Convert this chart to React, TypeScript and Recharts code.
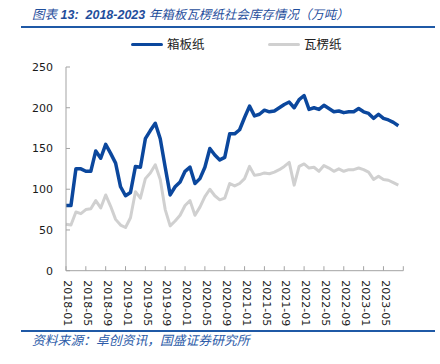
import React from 'react';
import { LineChart, Line, XAxis, YAxis } from 'recharts';

const months = [
  '2018-01','2018-02','2018-03','2018-04','2018-05','2018-06','2018-07','2018-08','2018-09','2018-10','2018-11','2018-12',
  '2019-01','2019-02','2019-03','2019-04','2019-05','2019-06','2019-07','2019-08','2019-09','2019-10','2019-11','2019-12',
  '2020-01','2020-02','2020-03','2020-04','2020-05','2020-06','2020-07','2020-08','2020-09','2020-10','2020-11','2020-12',
  '2021-01','2021-02','2021-03','2021-04','2021-05','2021-06','2021-07','2021-08','2021-09','2021-10','2021-11','2021-12',
  '2022-01','2022-02','2022-03','2022-04','2022-05','2022-06','2022-07','2022-08','2022-09','2022-10','2022-11','2022-12',
  '2023-01','2023-02','2023-03','2023-04','2023-05','2023-06','2023-07','2023-08','2023-09',
];

// 箱板纸
const boardValues = [
  80, 80, 125, 125, 122, 122, 147, 138, 155, 144,
  132, 103, 92, 96, 128, 127, 162, 172, 181, 162,
  127, 93, 103, 109, 122, 127, 107, 113, 127, 150,
  142, 136, 139, 168, 168, 173, 188, 202, 190, 192,
  197, 195, 196, 200, 204, 207, 200, 210, 215, 198,
  200, 198, 203, 199, 195, 196, 194, 195, 195, 199,
  195, 193, 187, 192, 187, 185, 182, 178,
];

// 瓦楞纸
const corrugatedValues = [
  57, 56, 72, 70, 75, 76, 86, 77, 93, 79,
  63, 56, 53, 65, 97, 89, 113, 120, 130, 112,
  75, 55, 61, 68, 80, 86, 68, 78, 91, 100,
  92, 87, 89, 107, 104, 107, 113, 128, 117, 118,
  120, 119, 121, 124, 128, 133, 105, 128, 131, 126,
  127, 122, 129, 126, 122, 125, 122, 124, 124, 126,
  124, 121, 112, 116, 112, 111, 108, 105,
];

const xTickLabels = [
  '2018-01','2018-05','2018-09','2019-01','2019-05','2019-09','2020-01','2020-05','2020-09',
  '2021-01','2021-05','2021-09','2022-01','2022-05','2022-09','2023-01','2023-05',
];
const axisEndTick = '2023-09';
const yTicks = [0, 50, 100, 150, 200, 250];

const seriesNames = ['箱板纸', '瓦楞纸'];
const BLUE = '#0B479D';
const GRAY = '#D0D0D0';
const AXIS = '#A3A3A3';
const TITLE_BLUE = '#1F4E9C';

const data = months.map((m, i) => ({
  month: m,
  board: i < boardValues.length ? boardValues[i] : null,
  corrugated: i < corrugatedValues.length ? corrugatedValues[i] : null,
}));

const XTick = (props: any) => {
  const { x, y, payload } = props;
  const showLabel = payload.value !== axisEndTick;
  return (
    <g>
      <line x1={x} x2={x} y1={y - 4.5} y2={y} stroke={AXIS} strokeWidth={1} />
      {showLabel && (
        <text
          transform={`translate(${x + 2},${y + 9.5}) rotate(90)`}
          textAnchor="start"
          dy="0.35em"
          fontSize={11}
          fontFamily="'DejaVu Sans', sans-serif"
          fill="#1a1a1a"
        >
          {payload.value}
        </text>
      )}
    </g>
  );
};

const YTick = (props: any) => {
  const { x, y, payload } = props;
  return (
    <g>
      <line x1={x} x2={x + 4} y1={y} y2={y} stroke={AXIS} strokeWidth={1} />
      <text
        x={x - 13}
        y={y}
        dy="0.36em"
        textAnchor="end"
        fontSize={11}
        fontFamily="'DejaVu Sans', sans-serif"
        fill="#1a1a1a"
      >
        {payload.value}
      </text>
    </g>
  );
};

export default function App() {
  const cjk = "'Noto Sans CJK SC', sans-serif";
  return (
    <div style={{ position: 'absolute', left: 0, top: 0, width: 440, height: 364, background: '#fff', overflow: 'hidden' }}>
      <div
        style={{
          position: 'absolute', left: 32, top: 6, height: 15, lineHeight: '15px', whiteSpace: 'pre',
          fontSize: 12.5, fontStyle: 'italic', color: TITLE_BLUE, fontFamily: "'Liberation Sans', 'Noto Sans CJK SC', sans-serif",
        }}
      >
        <span style={{ fontFamily: cjk }}>图表</span>
        <span style={{ fontWeight: 'bold' }}>{' 13:  2018-2023 '}</span>
        <span style={{ fontFamily: cjk }}>年箱板瓦楞纸社会库存情况（万吨）</span>
      </div>
      <div style={{ position: 'absolute', left: 21, top: 25.8, width: 414, height: 1.8, background: '#1F59A6' }} />

      <div style={{ position: 'absolute', left: 131, top: 42.5, width: 32, height: 3, background: BLUE, borderRadius: 1.5 }} />
      <div style={{ position: 'absolute', left: 167, top: 36, height: 16, lineHeight: '16px', fontSize: 12.5, fontFamily: cjk, color: '#222' }}>
        {seriesNames[0]}
      </div>
      <div style={{ position: 'absolute', left: 268, top: 42.5, width: 32, height: 3, background: GRAY, borderRadius: 1.5 }} />
      <div style={{ position: 'absolute', left: 304, top: 36, height: 16, lineHeight: '16px', fontSize: 12.5, fontFamily: cjk, color: '#222' }}>
        {seriesNames[1]}
      </div>

      <div style={{ position: 'absolute', left: 0, top: 0 }}>
        <LineChart width={440} height={364} data={data} margin={{ top: 67, right: 36.7, bottom: 0, left: 0 }}>
          <XAxis
            dataKey="month"
            ticks={[...xTickLabels, axisEndTick]}
            interval={0}
            height={93.3}
            tickSize={0}
            tickMargin={0}
            tickLine={false}
            axisLine={{ stroke: AXIS, strokeWidth: 1 }}
            tick={<XTick />}
          />
          <YAxis
            width={66}
            domain={[0, 250]}
            ticks={yTicks}
            interval={0}
            tickSize={0}
            tickMargin={0}
            tickLine={false}
            axisLine={{ stroke: AXIS, strokeWidth: 1 }}
            tick={<YTick />}
          />
          <Line
            type="linear"
            dataKey="corrugated"
            name={seriesNames[1]}
            stroke={GRAY}
            strokeWidth={3}
            dot={false}
            activeDot={false}
            strokeLinejoin="round"
            isAnimationActive={false}
          />
          <Line
            type="linear"
            dataKey="board"
            name={seriesNames[0]}
            stroke={BLUE}
            strokeWidth={3.5}
            dot={false}
            activeDot={false}
            strokeLinejoin="round"
            isAnimationActive={false}
          />
        </LineChart>
      </div>

      <div style={{ position: 'absolute', left: 21, top: 329.8, width: 414, height: 1.8, background: '#1F59A6' }} />
      <div
        style={{
          position: 'absolute', left: 32, top: 332, height: 16, lineHeight: '16px', whiteSpace: 'nowrap',
          fontSize: 12.8, fontStyle: 'italic', color: '#2C5BA8', fontFamily: cjk,
        }}
      >
        资料来源：卓创资讯，国盛证券研究所
      </div>
    </div>
  );
}
